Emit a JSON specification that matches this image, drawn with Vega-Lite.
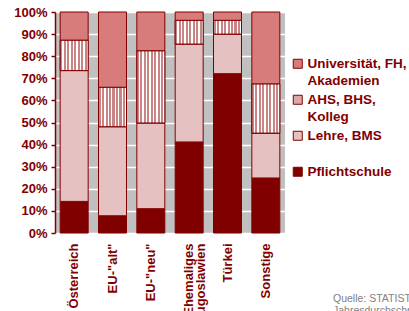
{
  "$schema": "https://vega.github.io/schema/vega-lite/v6.json",
  "width": 230,
  "height": 221,
  "autosize": {"type": "none"},
  "padding": {"left": 55, "top": 12, "right": 124, "bottom": 78},
  "background": "white",
  "title": {
    "text": ["Quelle: STATISTIK AUSTRIA, Mikrozensus", "Jahresdurchschnitt 2008"],
    "orient": "top",
    "anchor": "start",
    "frame": "group",
    "align": "left",
    "baseline": "top",
    "offset": 0,
    "dx": 278,
    "dy": 310,
    "font": "Liberation Sans",
    "fontSize": 10.5,
    "fontWeight": "normal",
    "color": "#7f7f7f",
    "lineHeight": 12
  },
  "data": {
    "values": [
      {"land": "Österreich", "bildung": "Pflichtschule", "rang": 1, "wert": 14.3},
      {"land": "Österreich", "bildung": "Lehre, BMS", "rang": 2, "wert": 59.2},
      {"land": "Österreich", "bildung": "AHS, BHS, Kolleg", "rang": 3, "wert": 13.7},
      {"land": "Österreich", "bildung": "Universität, FH, Akademien", "rang": 4, "wert": 12.8},
      {"land": "EU-\"alt\"", "bildung": "Pflichtschule", "rang": 1, "wert": 7.8},
      {"land": "EU-\"alt\"", "bildung": "Lehre, BMS", "rang": 2, "wert": 40.3},
      {"land": "EU-\"alt\"", "bildung": "AHS, BHS, Kolleg", "rang": 3, "wert": 17.8},
      {"land": "EU-\"alt\"", "bildung": "Universität, FH, Akademien", "rang": 4, "wert": 34.1},
      {"land": "EU-\"neu\"", "bildung": "Pflichtschule", "rang": 1, "wert": 11.0},
      {"land": "EU-\"neu\"", "bildung": "Lehre, BMS", "rang": 2, "wert": 38.8},
      {"land": "EU-\"neu\"", "bildung": "AHS, BHS, Kolleg", "rang": 3, "wert": 32.6},
      {"land": "EU-\"neu\"", "bildung": "Universität, FH, Akademien", "rang": 4, "wert": 17.6},
      {"land": "Ehemaliges Jugoslawien", "bildung": "Pflichtschule", "rang": 1, "wert": 41.2},
      {"land": "Ehemaliges Jugoslawien", "bildung": "Lehre, BMS", "rang": 2, "wert": 44.3},
      {"land": "Ehemaliges Jugoslawien", "bildung": "AHS, BHS, Kolleg", "rang": 3, "wert": 10.7},
      {"land": "Ehemaliges Jugoslawien", "bildung": "Universität, FH, Akademien", "rang": 4, "wert": 3.8},
      {"land": "Türkei", "bildung": "Pflichtschule", "rang": 1, "wert": 72.1},
      {"land": "Türkei", "bildung": "Lehre, BMS", "rang": 2, "wert": 17.9},
      {"land": "Türkei", "bildung": "AHS, BHS, Kolleg", "rang": 3, "wert": 6.2},
      {"land": "Türkei", "bildung": "Universität, FH, Akademien", "rang": 4, "wert": 3.8},
      {"land": "Sonstige", "bildung": "Pflichtschule", "rang": 1, "wert": 24.9},
      {"land": "Sonstige", "bildung": "Lehre, BMS", "rang": 2, "wert": 20.3},
      {"land": "Sonstige", "bildung": "AHS, BHS, Kolleg", "rang": 3, "wert": 22.2},
      {"land": "Sonstige", "bildung": "Universität, FH, Akademien", "rang": 4, "wert": 32.6}
    ]
  },
  "transform": [
    {"stack": "wert", "groupby": ["land"], "sort": [{"field": "rang", "order": "ascending"}], "as": ["y0", "y1"]}
  ],
  "encoding": {
    "x": {
      "field": "land",
      "type": "nominal",
      "sort": null,
      "scale": {"paddingInner": 0.27, "paddingOuter": 0.135},
      "axis": {
        "title": null,
        "domain": false,
        "ticks": false,
        "labelAngle": -90,
        "labelAlign": "right",
        "labelBaseline": "middle",
        "labelPadding": 10,
        "labelLineHeight": 12,
        "labelExpr": "datum.label == 'Ehemaliges Jugoslawien' ? ['Ehemaliges', 'Jugoslawien'] : datum.label",
        "labelFont": "Liberation Sans",
        "labelFontSize": 13,
        "labelFontWeight": "bold",
        "labelColor": "#800000"
      }
    },
    "y": {
      "field": "y0",
      "type": "quantitative",
      "scale": {"domain": [0, 100], "nice": false},
      "axis": {
        "title": null,
        "values": [0, 10, 20, 30, 40, 50, 60, 70, 80, 90, 100],
        "labelExpr": "datum.value + '%'",
        "domainColor": "#800000",
        "domainWidth": 1.5,
        "tickColor": "#800000",
        "tickSize": 4,
        "tickWidth": 1.5,
        "labelPadding": 4,
        "labelFont": "Liberation Sans",
        "labelFontSize": 13,
        "labelFontWeight": "bold",
        "labelColor": "#800000",
        "gridColor": "white",
        "gridWidth": 1.5,
        "gridOpacity": 1
      }
    },
    "y2": {"field": "y1"}
  },
  "layer": [
    {
      "mark": {"type": "bar", "stroke": "#800000", "strokeWidth": 1},
      "encoding": {
        "color": {
          "field": "bildung",
          "type": "nominal",
          "scale": {
            "domain": ["Universität, FH, Akademien", "AHS, BHS, Kolleg", "Lehre, BMS", "Pflichtschule"],
            "range": ["#d77b7b", "#dea8a8", "#e6c1c1", "#800000"]
          },
          "legend": {
            "title": null,
            "orient": "none",
            "legendX": 236,
            "legendY": 45,
            "symbolType": "square",
            "symbolSize": 81,
            "symbolStrokeColor": "#800000",
            "symbolStrokeWidth": 1,
            "symbolOpacity": 1,
            "labelOffset": 3,
            "labelFont": "Liberation Sans",
            "labelFontSize": 13.5,
            "labelFontWeight": "bold",
            "labelColor": "#800000",
            "labelBaseline": "middle",
            "labelLimit": 200,
            "rowPadding": 4,
            "labelExpr": "datum.label == 'Universität, FH, Akademien' ? ['Universität, FH,', 'Akademien'] : datum.label == 'AHS, BHS, Kolleg' ? ['AHS, BHS,', 'Kolleg'] : [datum.label, ' ']"
          }
        }
      }
    },
    {
      "transform": [{"filter": "datum.bildung == 'AHS, BHS, Kolleg'"}],
      "mark": {
        "type": "bar",
        "stroke": "#800000",
        "strokeWidth": 1,
        "color": {"gradient": "linear", "x1": 0, "y1": 0, "x2": 1, "y2": 0, "stops": [
          {"offset": 0, "color": "#c98585"}, {"offset": 0.075, "color": "#c98585"}, {"offset": 0.075, "color": "#ffffff"}, {"offset": 0.125, "color": "#ffffff"},
          {"offset": 0.125, "color": "#c98585"}, {"offset": 0.2, "color": "#c98585"}, {"offset": 0.2, "color": "#ffffff"}, {"offset": 0.25, "color": "#ffffff"},
          {"offset": 0.25, "color": "#c98585"}, {"offset": 0.325, "color": "#c98585"}, {"offset": 0.325, "color": "#ffffff"}, {"offset": 0.375, "color": "#ffffff"},
          {"offset": 0.375, "color": "#c98585"}, {"offset": 0.45, "color": "#c98585"}, {"offset": 0.45, "color": "#ffffff"}, {"offset": 0.5, "color": "#ffffff"},
          {"offset": 0.5, "color": "#c98585"}, {"offset": 0.575, "color": "#c98585"}, {"offset": 0.575, "color": "#ffffff"}, {"offset": 0.625, "color": "#ffffff"},
          {"offset": 0.625, "color": "#c98585"}, {"offset": 0.7, "color": "#c98585"}, {"offset": 0.7, "color": "#ffffff"}, {"offset": 0.75, "color": "#ffffff"},
          {"offset": 0.75, "color": "#c98585"}, {"offset": 0.825, "color": "#c98585"}, {"offset": 0.825, "color": "#ffffff"}, {"offset": 0.875, "color": "#ffffff"},
          {"offset": 0.875, "color": "#c98585"}, {"offset": 0.95, "color": "#c98585"}, {"offset": 0.95, "color": "#ffffff"}, {"offset": 1, "color": "#ffffff"}
        ]}
      },
      "encoding": {}
    }
  ],
  "config": {
    "view": {"fill": "#c0c0c0", "stroke": null},
    "style": {"guide-label": {"lineHeight": 17}}
  }
}
